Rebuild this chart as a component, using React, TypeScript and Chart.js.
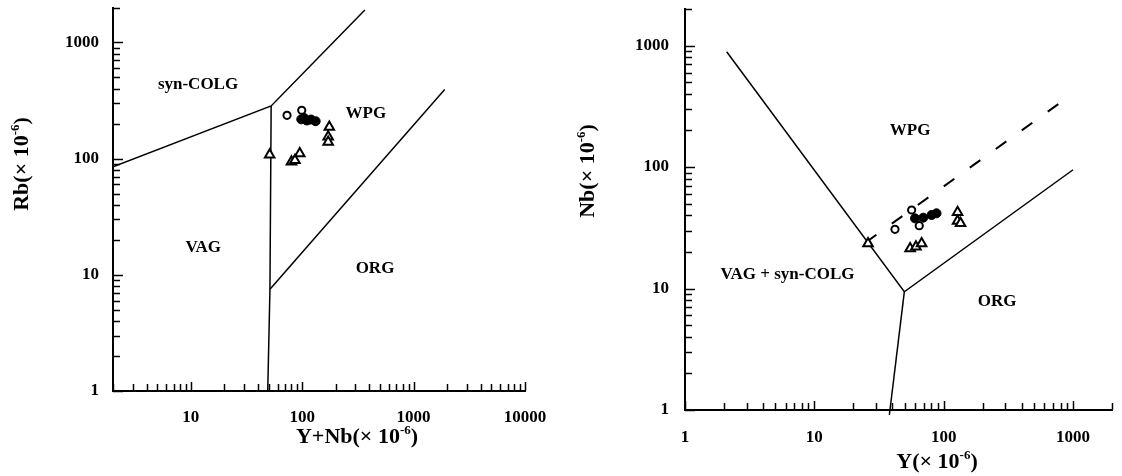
import React, { useEffect, useRef } from "react";
import { Chart, registerables } from "chart.js";

Chart.register(...registerables);

const FONT = '"Liberation Serif", "Times New Roman", serif';

// ---------- Left panel: Rb vs (Y+Nb) ----------
const rbOpenCircleYNb = [73, 99];
const rbOpenCircleRb = [236, 261];
const rbFilledCircleYNb = [98, 104, 110, 120, 132];
const rbFilledCircleRb = [218, 224, 213, 217, 210];
const rbTriangleYNb = [51, 80, 86, 95, 175, 171, 171];
const rbTriangleRb = [108, 94, 97, 111, 187, 154, 139];

const rbBoundary1YNb = [2, 52.6, 365];
const rbBoundary1Rb = [85, 284, 1900];
const rbBoundary2YNb = [52.6, 51.3, 49];
const rbBoundary2Rb = [284, 7.5, 1];
const rbBoundary3YNb = [51.3, 1900];
const rbBoundary3Rb = [7.5, 393];

const rbTickLabelsX = [10, 100, 1000, 10000];
const rbTickLabelsY = [1, 10, 100, 1000];

const rbFieldNames = ["syn-COLG", "WPG", "VAG", "ORG"];
const rbFieldYNb = [11.6, 373, 12.9, 450];
const rbFieldRb = [436, 246, 17.3, 11.4];

// ---------- Right panel: Nb vs Y ----------
const nbOpenCircleY = [42, 56.5, 64.7];
const nbOpenCircleNb = [30.7, 44.3, 32.9];
const nbFilledCircleY = [60, 69.5, 80.6, 88];
const nbFilledCircleNb = [37.8, 38.3, 40.3, 41.6];
const nbTriangleY = [26, 55, 61, 67.5, 128, 128, 135];
const nbTriangleNb = [23.5, 21.4, 22.1, 23.5, 42.4, 36, 34.4];

const nbBoundary1Y = [2.1, 49.6, 1000];
const nbBoundary1Nb = [890, 9.4, 95];
const nbBoundary2Y = [49.6, 38];
const nbBoundary2Nb = [9.4, 0.91];
const nbDashedY = [25, 800];
const nbDashedNb = [24, 340];

const nbTickLabelsX = [1, 10, 100, 1000];
const nbTickLabelsY = [1, 10, 100, 1000];

const nbFieldNames = ["WPG", "VAG + syn-COLG", "ORG"];
const nbFieldY = [55, 6.2, 259];
const nbFieldNb = [198, 12.9, 7.8];

// ---------- helpers ----------
const pts = (xs: number[], ys: number[]) => xs.map((x, i) => ({ x, y: ys[i] }));

function logTickValues(min: number, max: number) {
  const out: number[] = [];
  const e0 = Math.floor(Math.log10(min));
  const e1 = Math.ceil(Math.log10(max));
  for (let e = e0; e <= e1; e++) {
    for (let k = 1; k <= 9; k++) {
      const v = k * Math.pow(10, e);
      if (v >= min * 0.999 && v <= max * 1.001) out.push(v);
    }
  }
  return out;
}
const isDecade = (v: number) => Math.abs(Math.log10(v) - Math.round(Math.log10(v))) < 1e-6;

function drawTitle(ctx: CanvasRenderingContext2D, main: string, sup: string, tail: string, cx: number, cy: number, angle: number) {
  const big = `bold 22px ${FONT}`;
  const small = `bold 13px ${FONT}`;
  ctx.save();
  ctx.translate(cx, cy);
  ctx.rotate(angle);
  ctx.textBaseline = "alphabetic";
  ctx.textAlign = "left";
  ctx.font = big;
  const w1 = ctx.measureText(main).width;
  const w3 = ctx.measureText(tail).width;
  ctx.font = small;
  const w2 = ctx.measureText(sup).width;
  let x = -(w1 + w2 + w3) / 2;
  const base = 7;
  ctx.font = big;
  ctx.fillText(main, x, base);
  x += w1;
  ctx.font = small;
  ctx.fillText(sup, x, base - 9);
  x += w2;
  ctx.font = big;
  ctx.fillText(tail, x, base);
  ctx.restore();
}

type PanelSpec = {
  xMin: number; xMax: number; yMin: number; yMax: number;
  xLabels: number[]; yLabels: number[];
  yAxisWidth: number; xAxisHeight: number;
  padTop: number; padRight: number;
  xLabelPad: number; yLabelPad: number;
  open: { x: number[]; y: number[] };
  filled: { x: number[]; y: number[] };
  tri: { x: number[]; y: number[] };
  lines: { x: number[]; y: number[]; dash?: number[]; noClip?: boolean; width?: number }[];
  fieldNames: string[]; fieldX: number[]; fieldY: number[];
  xTitle: [string, string, string]; xTitlePos: [number, number];
  yTitle: [string, string, string]; yTitlePos: [number, number];
};

const leftPanel: PanelSpec = {
  xMin: 2, xMax: 10000, yMin: 1, yMax: 2000,
  xLabels: rbTickLabelsX, yLabels: rbTickLabelsY,
  yAxisWidth: 113, xAxisHeight: 85, padTop: 7, padRight: 36,
  xLabelPad: 8, yLabelPad: 6,
  open: { x: rbOpenCircleYNb, y: rbOpenCircleRb },
  filled: { x: rbFilledCircleYNb, y: rbFilledCircleRb },
  tri: { x: rbTriangleYNb, y: rbTriangleRb },
  lines: [
    { x: rbBoundary1YNb, y: rbBoundary1Rb },
    { x: rbBoundary2YNb, y: rbBoundary2Rb },
    { x: rbBoundary3YNb, y: rbBoundary3Rb },
  ],
  fieldNames: rbFieldNames, fieldX: rbFieldYNb, fieldY: rbFieldRb,
  xTitle: ["Y+Nb(× 10", "-6", ")"], xTitlePos: [357, 436],
  yTitle: ["Rb(× 10", "-6", ")"], yTitlePos: [21, 164],
};

const rightPanel: PanelSpec = {
  xMin: 1, xMax: 2000, yMin: 1, yMax: 2000,
  xLabels: nbTickLabelsX, yLabels: nbTickLabelsY,
  yAxisWidth: 124, xAxisHeight: 66, padTop: 9, padRight: 10,
  xLabelPad: 9, yLabelPad: 8,
  open: { x: nbOpenCircleY, y: nbOpenCircleNb },
  filled: { x: nbFilledCircleY, y: nbFilledCircleNb },
  tri: { x: nbTriangleY, y: nbTriangleNb },
  lines: [
    { x: nbBoundary1Y, y: nbBoundary1Nb },
    { x: nbBoundary2Y, y: nbBoundary2Nb, noClip: true },
    { x: nbDashedY, y: nbDashedNb, dash: [13, 19], width: 2 },
  ],
  fieldNames: nbFieldNames, fieldX: nbFieldY, fieldY: nbFieldNb,
  xTitle: ["Y(× 10", "-6", ")"], xTitlePos: [376, 461],
  yTitle: ["Nb(× 10", "-6", ")"], yTitlePos: [26, 171],
};

function zeroPadding(axis: any) {
  axis.paddingTop = 0;
  axis.paddingBottom = 0;
  axis.paddingLeft = 0;
  axis.paddingRight = 0;
}

function buildConfig(p: PanelSpec): any {
  const decor = {
    id: "panelDecor",
    afterDraw(chart: any) {
      const ctx: CanvasRenderingContext2D = chart.ctx;
      const xs = chart.scales.x;
      const ys = chart.scales.y;
      const area = chart.chartArea;
      ctx.save();
      ctx.strokeStyle = "#000";
      ctx.lineWidth = 1.5;
      for (const v of logTickValues(p.xMin, p.xMax)) {
        const px = Math.round(xs.getPixelForValue(v)) + 0.5;
        ctx.beginPath();
        ctx.moveTo(px, area.bottom);
        ctx.lineTo(px, area.bottom - (isDecade(v) ? 9 : 7));
        ctx.stroke();
      }
      for (const v of logTickValues(p.yMin, p.yMax)) {
        const py = Math.round(ys.getPixelForValue(v)) + 0.5;
        ctx.beginPath();
        ctx.moveTo(area.left, py);
        ctx.lineTo(area.left + (isDecade(v) ? 10 : 7), py);
        ctx.stroke();
      }
      ctx.fillStyle = "#000";
      ctx.font = `bold 17px ${FONT}`;
      ctx.textAlign = "center";
      ctx.textBaseline = "middle";
      p.fieldNames.forEach((n, i) => {
        ctx.fillText(n, xs.getPixelForValue(p.fieldX[i]), ys.getPixelForValue(p.fieldY[i]));
      });
      drawTitle(ctx, p.xTitle[0], p.xTitle[1], p.xTitle[2], p.xTitlePos[0], p.xTitlePos[1], 0);
      drawTitle(ctx, p.yTitle[0], p.yTitle[1], p.yTitle[2], p.yTitlePos[0], p.yTitlePos[1], -Math.PI / 2);
      ctx.restore();
    },
  };

  const lineSets = p.lines.map((l) => {
    const ds: any = {
      data: pts(l.x, l.y),
      showLine: true,
      borderColor: "#000",
      borderWidth: l.width ?? 1.5,
      pointRadius: 0,
      pointHoverRadius: 0,
      borderDash: l.dash ?? [],
      fill: false,
      order: 2,
    };
    if (l.noClip) ds.clip = false;
    return ds;
  });

  const datasets: any[] = [
    ...lineSets,
    {
      data: pts(p.open.x, p.open.y),
      pointStyle: "circle",
      pointRadius: 3.6,
      pointBorderWidth: 2,
      pointBackgroundColor: "#fff",
      pointBorderColor: "#000",
      order: 1,
    },
    {
      data: pts(p.filled.x, p.filled.y),
      pointStyle: "circle",
      pointRadius: 4.5,
      pointBorderWidth: 1,
      pointBackgroundColor: "#000",
      pointBorderColor: "#000",
      order: 0,
    },
    {
      data: pts(p.tri.x, p.tri.y),
      pointStyle: "triangle",
      pointRadius: 5.5,
      pointBorderWidth: 2,
      pointBackgroundColor: "#fff",
      pointBorderColor: "#000",
      order: 0,
    },
  ];

  const tickFont = { family: FONT, size: 17, weight: "bold" as const };

  return {
    type: "scatter",
    data: { datasets },
    options: {
      animation: false,
      responsive: false,
      devicePixelRatio: 1,
      events: [],
      layout: { padding: { left: 0, top: p.padTop, right: p.padRight, bottom: 0 } },
      plugins: { legend: { display: false }, tooltip: { enabled: false } },
      scales: {
        x: {
          type: "logarithmic",
          position: "bottom",
          min: p.xMin,
          max: p.xMax,
          grid: { display: false },
          border: { display: true, color: "#000", width: 2 },
          afterBuildTicks: (axis: any) => {
            axis.ticks = p.xLabels.map((v) => ({ value: v }));
          },
          afterFit: (axis: any) => {
            axis.height = p.xAxisHeight;
            zeroPadding(axis);
          },
          ticks: {
            autoSkip: false,
            maxRotation: 0,
            minRotation: 0,
            padding: p.xLabelPad,
            color: "#000",
            font: tickFont,
            callback: (v: any) => String(v),
          },
        },
        y: {
          type: "logarithmic",
          position: "left",
          min: p.yMin,
          max: p.yMax,
          grid: { display: false },
          border: { display: true, color: "#000", width: 2 },
          afterBuildTicks: (axis: any) => {
            axis.ticks = p.yLabels.map((v) => ({ value: v }));
          },
          afterFit: (axis: any) => {
            axis.width = p.yAxisWidth;
            zeroPadding(axis);
          },
          ticks: {
            autoSkip: false,
            padding: p.yLabelPad,
            color: "#000",
            font: tickFont,
            callback: (v: any) => String(v),
          },
        },
      },
    },
    plugins: [decor],
  };
}

function Panel({ spec, left }: { spec: PanelSpec; left: number }) {
  const ref = useRef<HTMLCanvasElement>(null);
  useEffect(() => {
    if (!ref.current) return;
    const chart = new Chart(ref.current, buildConfig(spec));
    return () => chart.destroy();
  }, [spec]);
  return (
    <canvas
      ref={ref}
      width={561}
      height={476}
      style={{ position: "absolute", left, top: 0, width: 561, height: 476 }}
    />
  );
}

export default function App() {
  return (
    <div style={{ position: "absolute", left: 0, top: 0, width: 1122, height: 476, background: "#fff" }}>
      <Panel spec={leftPanel} left={0} />
      <Panel spec={rightPanel} left={561} />
    </div>
  );
}
